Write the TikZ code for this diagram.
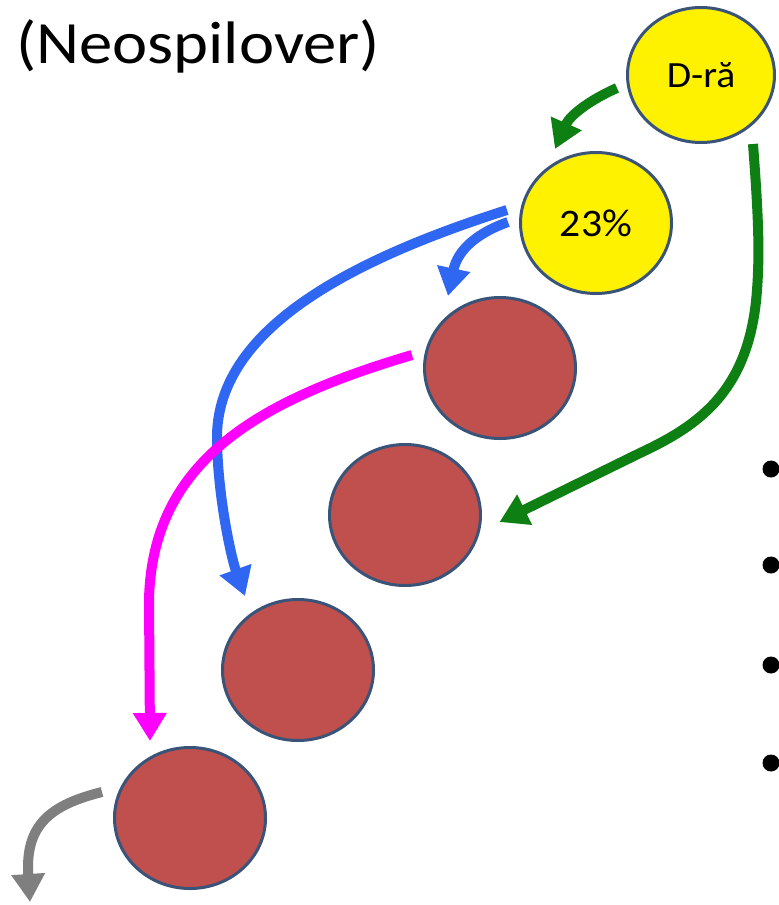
\documentclass[tikz,border=0pt]{standalone}
\usepackage{fontspec}
\setmainfont{Carlito}
\usetikzlibrary{shapes.geometric,arrows.meta,calc}
\definecolor{outl}{HTML}{3A5378}
\definecolor{redfill}{HTML}{C0504D}
\definecolor{grn}{HTML}{0E7F12}
\definecolor{blu}{HTML}{2F66F2}
\definecolor{mag}{HTML}{FF00FF}
\definecolor{gry}{HTML}{7F7F7F}
\begin{document}
\begin{tikzpicture}[x=1pt,y=-1pt,
 disc/.style={ellipse, draw=outl, line width=3pt, inner sep=0pt, minimum width=151pt, minimum height=141pt},
 yeldisc/.style={disc, fill=yellow},
 reddisc/.style={disc, fill=redfill},
 flow/.style={line width=10pt, -{Triangle[length=28pt,width=32pt]}},
 lbl/.style={font=\fontsize{37}{40}\selectfont},
 bullet/.style={circle, fill=black, inner sep=0pt, minimum size=17pt}
]
\useasboundingbox (0,0) rectangle (779,905);
\fill[white] (0,0) rectangle (779,905);

\node[anchor=base west, inner sep=0pt, font=\fontsize{60}{66}\selectfont] (title) at (16,63) {\scalebox{1.11}[1]{(Neospilover)}};

\node[yeldisc, minimum width=147pt, minimum height=135pt, lbl] (dra) at (701,75) {\scalebox{1.07}[1]{D-ră}};
\node[yeldisc, font=\fontsize{39}{42}\selectfont] (p23) at (596,223) {\scalebox{1.07}[1]{23\%}};
\node[reddisc] (r1) at (500,368) {};
\node[reddisc] (r2) at (405,515) {};
\node[reddisc] (r3) at (298,670) {};
\node[reddisc] (r4) at (190,818) {};

\coordinate (grayend) at (30,902);

\draw[flow, grn] ($(dra.west)+(-9,13)$) .. controls (590,100) and (570,115) .. ($(p23.north)+(-41,-2)$);
\draw[flow, grn] ($(dra.south)+(52,0)$) .. controls (758,210) and (760,250) .. (757,290) .. controls (750,390) and (700,425) .. (640,453) -- ($(r2.east)+(17.5,7)$);
\draw[flow, blu] ($(p23.west)+(-11,-1)$) .. controls (480,232) and (458,248) .. ($(r1.north)+(-52,0)$);
\draw[flow, blu] ($(p23.west)+(-12,-13)$) .. controls (350,260) and (215,330) .. (217,440) .. controls (218,500) and (232,560) .. ($(r3.north)+(-53,-2)$);
\draw[flow, mag] ($(r1.west)+(-11,-13)$) .. controls (260,400) and (152,460) .. (149,600) -- ($(r4.north)+(-40,-5)$);
\draw[flow, gry] ($(r4.west)+(-11,-26)$) .. controls (50,805) and (25,825) .. (grayend);

\node[bullet] (b1) at (771,469) {};
\node[bullet] (b2) at (771,565) {};
\node[bullet] (b3) at (771,665) {};
\node[bullet] (b4) at (771,763) {};
\end{tikzpicture}
\end{document}
